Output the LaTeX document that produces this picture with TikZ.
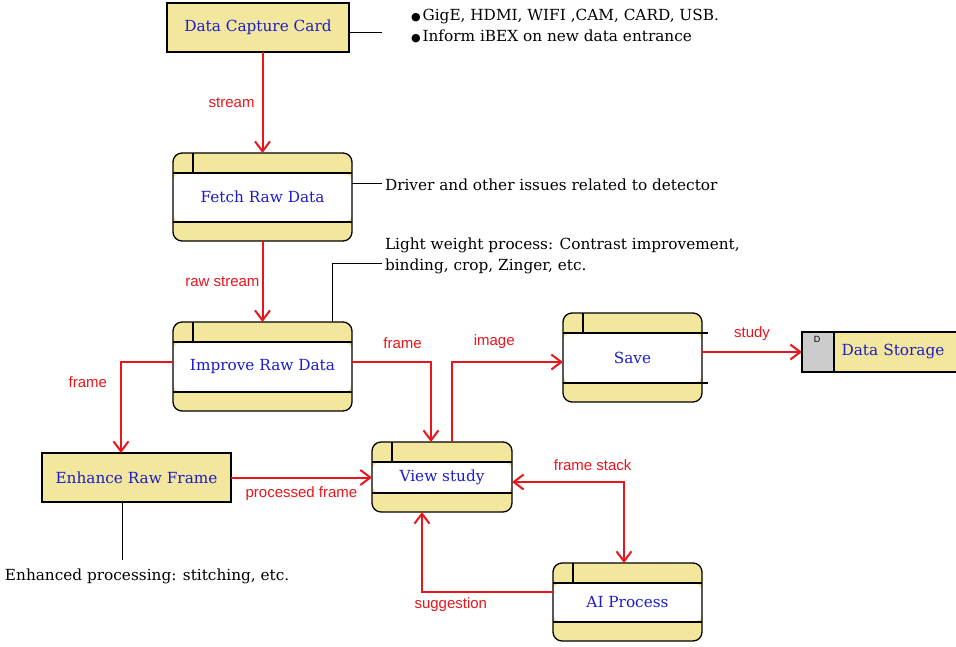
\documentclass[tikz,border=0pt]{standalone}
\usepackage{fontspec}
\setmainfont{DejaVu Serif}
\newfontfamily\lsans{Liberation Sans}
\newfontfamily\dvs{DejaVu Sans}
\usetikzlibrary{arrows.meta}
\definecolor{khaki}{HTML}{F3E79E}
\definecolor{nblue}{HTML}{1C1CC8}
\definecolor{fred}{HTML}{E8161C}
\definecolor{dgray}{HTML}{CCCCCC}
\newcommand\bul{{\dvs\fontsize{11}{11}\selectfont ●}\hspace{2pt}}
\begin{document}
\begin{tikzpicture}[x=1pt,y=-1pt,
  every node/.style={inner sep=0pt, outer sep=0pt},
  ntext/.style={font=\fontsize{15.3}{18}\selectfont, text=nblue},
  ext/.style={rectangle, draw=black, line width=1.3pt, fill=khaki, ntext},
  proc/.style={rectangle, rounded corners=9pt, draw=black, line width=1.3pt, fill=khaki, ntext,
    path picture={
      \fill[white] ([yshift=-20pt]path picture bounding box.north west) rectangle ([yshift=19pt]path picture bounding box.south east);
      \draw[line width=1.2pt] ([yshift=-20pt]path picture bounding box.north west) -- ([yshift=-20pt]path picture bounding box.north east);
      \draw[line width=1.2pt] ([yshift=19pt]path picture bounding box.south west) -- ([yshift=19pt]path picture bounding box.south east);
      \draw[line width=1.2pt] ([xshift=20pt]path picture bounding box.north west) -- ([xshift=20pt,yshift=-20pt]path picture bounding box.north west);
    }},
  flow/.style={draw=fred, line width=2pt, -{Straight Barb[length=10pt,width=15pt]}},
  dflow/.style={draw=fred, line width=2pt, {Straight Barb[length=10pt,width=15pt]}-{Straight Barb[length=10pt,width=15pt]}},
  flab/.style={font=\lsans\fontsize{15}{18}\selectfont, text=fred},
  note/.style={font=\fontsize{15.3}{21}\selectfont, anchor=west, align=left},
  tie/.style={draw=black, line width=1pt}
]
\useasboundingbox (0,0) rectangle (956,646);

% nodes
\node[ext, minimum width=182pt, minimum height=49pt] (capture) at (258,27.5) {Data Capture Card};
\node[proc, minimum width=179pt, minimum height=88pt] (fetch) at (262.5,197) {Fetch Raw Data};
\node[proc, minimum width=179pt, minimum height=89pt] (improve) at (262.5,366.5) {Improve Raw Data};
\node[ext, minimum width=189pt, minimum height=49pt] (enhance) at (136.5,477.5) {Enhance Raw Frame};
\node[proc, minimum width=140pt, minimum height=70pt] (view) at (442,477) {View study};
\node[proc, minimum width=139pt, minimum height=89pt] (save) at (632.5,357.5) {Save};
\node[proc, minimum width=149pt, minimum height=78pt] (ai) at (627.5,602) {AI Process};
\node[rectangle, draw=black, line width=1.3pt, fill=dgray, minimum width=32pt, minimum height=40pt] (stD) at (818,352) {};
\node[font=\lsans\fontsize{9}{9}\selectfont] (dlab) at (817,339) {D};
\node[ext, minimum width=124pt, minimum height=40pt, text width=124pt, align=center] (storage) at (896,352) {\hspace*{-6pt}Data Storage};

% Save extra band lines
\draw[tie, line width=1.2pt] ([yshift=-20pt]save.north east) -- ++(6,0);
\draw[tie, line width=1.2pt] ([yshift=19pt]save.south east) -- ++(6,0);

% notes
\node[note] (n1) at (411,26) {\bul GigE, HDMI, WIFI ,CAM, CARD, USB.\\\bul Inform iBEX on new data entrance};
\node[note] (n2) at (385,185) {Driver and other issues related to detector};
\node[note] (n3) at (385,255.5) {Light weight process: Contrast improvement,\\binding, crop, Zinger, etc.};
\node[note] (n4) at (5,576) {Enhanced processing: stitching, etc.};

% ties
\coordinate (t1) at (382,32);
\draw[tie] (capture.east |- t1) -- (t1);
\coordinate (t2) at (382,183);
\draw[tie] (fetch.east |- t2) -- (t2);
\coordinate (t3) at (382,263);
\draw[tie] ([xshift=69.5pt]improve.north) |- (t3);
\coordinate (t4) at (122,560);
\draw[tie] (enhance.south -| t4) -- (t4);

% flows
\draw[flow] (fetch.north |- capture.south) -- (fetch.north) node[flab, midway, left=8pt] {stream};
\draw[flow] (fetch.south) -- (improve.north) node[flab, midway, left=3pt] {raw stream};
\draw[flow] ([yshift=4.5pt]improve.west) -| ([xshift=-15.5pt]enhance.north) node[flab, pos=0.61, left=14pt] {frame};
\draw[flow] ([yshift=4.5pt]improve.east) -| ([xshift=-11pt]view.north) node[flab, pos=0.32, above=13pt] {frame};
\draw[flow] ([xshift=10pt]view.north) |- ([yshift=-4.5pt]save.west) node[flab, pos=0.69, above=13pt] {image};
\draw[flow] (save.east |- stD.west) -- (stD.west) node[flab, midway, above=11pt] {study};
\draw[flow] (enhance.east) -- (enhance.east -| view.west) node[flab, midway, below=9pt] {processed frame};
\draw[dflow] ([yshift=-5pt]view.east) -| ([xshift=-3.5pt]ai.north) node[flab, pos=0.36, above=11pt] {frame stack};
\draw[flow] ([yshift=10pt]ai.west) -| ([xshift=-20pt]view.south) node[flab, pos=0.39, below=6pt] {suggestion};
\end{tikzpicture}
\end{document}
